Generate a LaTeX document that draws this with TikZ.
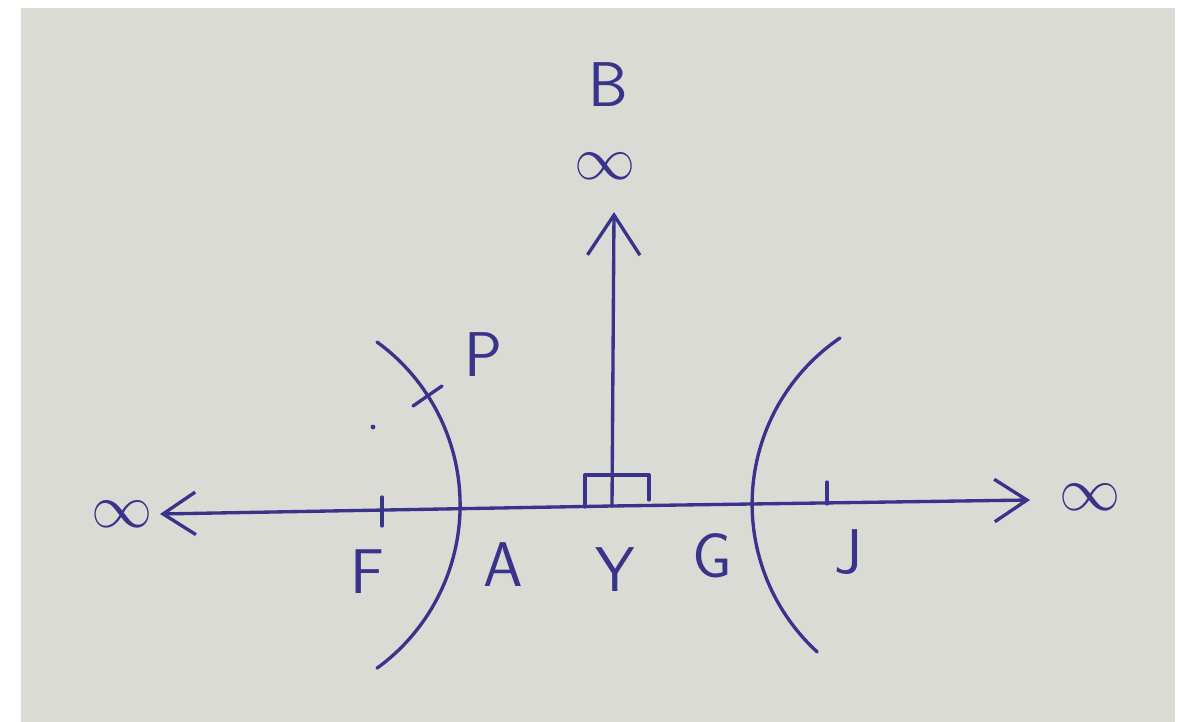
\documentclass[tikz,border=0pt]{standalone}
\usepackage{xcolor}
\usepackage{graphicx}
\usepackage{tikz}
\usetikzlibrary{arrows.meta,positioning,calc}
\definecolor{ink}{HTML}{3A338C}
\definecolor{paper}{HTML}{DBDBD5}
\newcommand{\bigInf}{\scalebox{1.4}{$\infty$}}
\tikzset{
  pen/.style={draw=ink,line width=1.9pt,line cap=round,line join=round},
  axisarr/.style={pen,-{Straight Barb[length=6.5mm,width=8.5mm,line width=1.9pt]}},
  uparr/.style={pen,-{Straight Barb[length=8mm,width=10.5mm,line width=1.9pt]}},
  letter/.style={text=ink,font=\sffamily\fontsize{36}{40}\selectfont,inner sep=0pt},
  inf/.style={text=ink,font=\fontsize{30}{34}\selectfont,inner sep=0pt}
}

\begin{document}
\begin{tikzpicture}[x=0.02cm,y=-0.02cm]
  \useasboundingbox (0,0) rectangle (1189,722);
  \fill[white] (0,0) rectangle (1189,722);
  \fill[paper] (21,8) rectangle (1175,722);

  % axes
  \coordinate (origin) at (612,506);
  \coordinate (west) at (160,514);
  \coordinate (east) at (1030,500);
  \coordinate (north) at (614,212);
  \draw[axisarr] (origin) -- (west);
  \draw[axisarr] (origin) -- (east);
  \draw[uparr] (origin) -- (north);

  % right angle mark
  \draw[pen] (585,507) -- (585,475) -- (649,475) -- (649,500);

  % ticks
  \coordinate (ftick) at (382,510);
  \coordinate (jtick) at (827,503);
  \draw[pen] ($(ftick)+(0,-13)$) -- ($(ftick)+(0,16)$);
  \draw[pen] ($(jtick)+(0,-21)$) -- ($(jtick)+(0,1)$);

  % the two branches
  \coordinate (ltop) at (377,342);
  \coordinate (rtop) at (840,338);
  \draw[pen] (ltop) arc[start angle=-54, end angle=54, radius=201.6];
  \draw[pen] (rtop) arc[start angle=-124.2, end angle=-227.5, radius=200.7];

  % point P on the left branch
  \draw[pen] (413,406) -- (442,386);
  \fill[ink] (373,427) circle (2.4);

  % labels
  \node[inf] (infW) at (122,514) {\bigInf};
  \node[inf] (infE) at (1090,497) {\bigInf};
  \node[inf] (infN) at (605,166) {\bigInf};
  \node[letter] (B) at (608,85) {B};
  \node[letter] (P) at (483,355) {P};
  \node[letter] (F) at (367,572) {F};
  \node[letter] (A) at (503,565) {A};
  \node[letter] (Y) at (615,570) {Y};
  \node[letter] (G) at (712,556) {G};
  \node[letter] (J) at (848,552) {J};
\end{tikzpicture}
\end{document}
